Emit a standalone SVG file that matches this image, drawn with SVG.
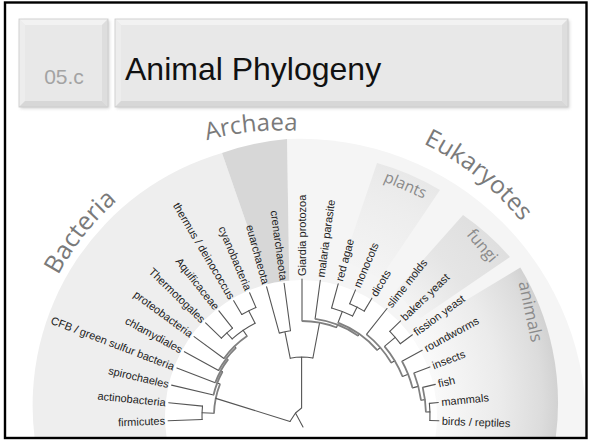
<svg xmlns="http://www.w3.org/2000/svg" width="589" height="442" viewBox="0 0 589 442">
<defs>
<style>
.lf{font-family:"Liberation Sans",Arial,sans-serif;font-size:11px;fill:#222}
.grp{font-family:"Open Sans","Noto Sans",sans-serif;fill:#7a7a7a}
.sub{font-family:"Open Sans","Noto Sans",sans-serif;fill:#8a8a8a}
.br{fill:none;stroke:#555;stroke-width:1.1;stroke-linecap:round}
.sp{fill:none;stroke:#808080;stroke-width:1.8}
.bx{fill:#e8e8e8}
.bt{fill:#f2f2f2}
.bl{fill:#ededed}
.brr{fill:#dddddd}
.bb{fill:#d7d7d7}
.bo{fill:none;stroke:#cacaca;stroke-width:0.8}
</style>
<radialGradient id="gAn" gradientUnits="userSpaceOnUse" cx="296" cy="403" r="262">
<stop offset="0.5" stop-color="#fbfbfb"/>
<stop offset="0.78" stop-color="#ebebeb"/>
<stop offset="0.94" stop-color="#dcdcdc"/>
<stop offset="1" stop-color="#d2d2d2"/>
</radialGradient>
<radialGradient id="gPl" gradientUnits="userSpaceOnUse" cx="296" cy="403" r="256">
<stop offset="0.55" stop-color="#e9e9e9" stop-opacity="0"/>
<stop offset="0.85" stop-color="#eaeaea" stop-opacity="0.7"/>
<stop offset="1" stop-color="#e8e8e8" stop-opacity="1"/>
</radialGradient>
<radialGradient id="gFu" gradientUnits="userSpaceOnUse" cx="296" cy="403" r="257">
<stop offset="0.55" stop-color="#e0e0e0" stop-opacity="0"/>
<stop offset="0.8" stop-color="#e2e2e2" stop-opacity="0.85"/>
<stop offset="1" stop-color="#dfdfdf" stop-opacity="1"/>
</radialGradient>
<clipPath id="clipFan"><rect x="0" y="0" width="589" height="437"/></clipPath>
<filter id="sh" x="-10%" y="-10%" width="125%" height="125%"><feGaussianBlur stdDeviation="1.5"/></filter>
<path id="arcBac" d="M28.9,363.6 A270,270 0 0 1 196.6,152.0"/>
<path id="arcArc" d="M136.6,170.1 A280,280 0 0 1 372.0,145.8"/>
<path id="arcEuk" d="M339.5,117.3 A289,289 0 0 1 565.2,297.8"/>
</defs>

<rect width="589" height="442" fill="#fff"/>

<g id="fan" clip-path="url(#clipFan)">
<path d="M301,437 L34.5,437 A263,263 0 0 1 222,153 L280,320 Z" fill="#eeeeee"/>
<path d="M287,139 A286,286 0 0 1 586,437 L301,437 L290,330 Z" fill="#f5f5f5"/>
<path d="M222,153 A262,262 0 0 1 287,139 L290,330 L280,320 Z" fill="#d7d7d7"/>
<path d="M377,163 A255,255 0 0 1 440,190 L380.1,278.8 L343.8,260.8 Z" fill="url(#gPl)"/>
<path d="M463,215 A256,256 0 0 1 510,257 L419.9,318.4 L395.6,290.8 Z" fill="url(#gFu)"/>
<path d="M520.3,267.5 A262,262 0 0 1 555.8,437 L320,437 L330,382 Z" fill="url(#gAn)"/>
<circle cx="301" cy="416" r="136" fill="#fff"/>
</g>

<g id="frame"><rect x="5" y="2.5" width="581.5" height="435.5" fill="none" stroke="#000" stroke-width="2.4"/></g>

<g id="box-05c">
<rect x="20.5" y="20.5" width="89" height="88" fill="#d2d2d2" filter="url(#sh)"/>
<rect class="bx" x="19" y="19" width="89" height="88"/>
<polygon class="bt" points="19,19 108,19 102,25 25,25"/>
<polygon class="bl" points="19,19 25,25 25,101 19,107"/>
<polygon class="brr" points="108,19 108,107 102,101 102,25"/>
<polygon class="bb" points="19,107 108,107 102,101 25,101"/>
<rect class="bo" x="19" y="19" width="89" height="88"/>
<text x="64" y="84" text-anchor="middle" font-family="Liberation Sans, Arial, sans-serif" font-size="21" fill="#a3a3a3">05.c</text>
</g>

<g id="box-title">
<rect x="116.5" y="20.5" width="453" height="88" fill="#d2d2d2" filter="url(#sh)"/>
<rect class="bx" x="115" y="19" width="453" height="88"/>
<polygon class="bt" points="115,19 568,19 562,25 121,25"/>
<polygon class="bl" points="115,19 121,25 121,101 115,107"/>
<polygon class="brr" points="568,19 568,107 562,101 562,25"/>
<polygon class="bb" points="115,107 568,107 562,101 121,101"/>
<rect class="bo" x="115" y="19" width="453" height="88"/>
<text x="125" y="80" font-family="Liberation Sans, Arial, sans-serif" font-size="32" fill="#111">Animal Phylogeny</text>
</g>

<g id="group-bacteria"><text class="grp" font-size="25"><textPath href="#arcBac" startOffset="50%" text-anchor="middle">Bacteria</textPath></text></g>
<g id="group-archaea"><text class="grp" font-size="24"><textPath href="#arcArc" startOffset="50%" text-anchor="middle">Archaea</textPath></text></g>
<g id="group-eukaryotes"><text class="grp" font-size="24.5"><textPath href="#arcEuk" startOffset="50%" text-anchor="middle">Eukaryotes</textPath></text></g>
<g id="group-plants"><text class="sub" font-size="15.5" x="383" y="181" transform="rotate(23.5 383 181)">plants</text></g>
<g id="group-fungi"><text class="sub" font-size="16" x="478.2" y="249.1" text-anchor="middle" transform="rotate(50 478.2 249.1)">fungi</text></g>
<g id="group-animals"><text class="sub" font-size="17" x="525" y="312.8" text-anchor="middle" transform="rotate(78 525 312.8)">animals</text></g>

<g id="connectors">
<path class="br" d="M168.1,420.7 L202.1,419.5 M168.7,402.8 L202.5,406.1 M171.6,385.1 L213.5,395.0 M176.9,368.0 L215.2,382.7 M184.4,351.7 L218.6,370.4 M194.1,336.6 L223.9,358.5 M205.6,322.9 L221.4,338.2 M218.9,310.9 L232.5,328.1 M233.7,300.7 L241.8,314.5 M249.6,292.7 L255.9,307.4"/>
<path class="br" d="M202.1,419.5 A100,100 0 0 1 202.5,406.1 M221.4,338.2 A112,112 0 0 1 232.5,328.1 M241.8,314.5 A118,118 0 0 1 255.9,307.4 M232.2,338.9 A104,104 0 0 1 255.1,323.2"/>
<path class="br" d="M202.1,412.8 L214.0,413.2 M226.8,333.0 L232.2,338.9 M248.7,310.7 L255.1,323.2 M243.1,330.3 L247.1,336.1 M234.5,346.3 L235.9,347.8 M226.4,358.4 L228.0,359.6 M220.8,370.7 L222.5,371.7 M217.2,383.0 L220.0,384.1"/>
<path class="sp" d="M214.0,413.2 A88,88 0 0 1 220.0,384.1 M213.5,395.0 A91,91 0 0 1 222.5,371.7 M215.2,382.7 A93,93 0 0 1 228.0,359.6 M218.6,370.4 A95,95 0 0 1 235.9,347.8 M223.9,358.5 A97,97 0 0 1 247.1,336.1"/>
<path class="br" d="M215.8,398.4 L290,421.5"/>
<path class="br" d="M266.6,286.8 L279.3,333.1 M284.1,283.2 L290.5,330.8 M279.3,333.1 A86,86 0 0 1 290.5,330.8 M284.9,331.7 L290.2,358.2"/>
<path class="br" d="M302,279 L302,321 M320.3,280.2 L315.1,318.9 M338.2,283.9 L331.6,308.0 M355.5,289.9 L349.7,303.7 M371.9,298.2 L364.2,311.1 M387.0,308.5 L366.5,334.4 M400.6,320.8 L389.8,331.3 M412.4,334.8 L400.3,343.7 M422.2,350.3 L402.0,361.3 M429.9,366.9 L414.0,373.0 M435.3,384.4 L422.7,387.4 M438.3,402.5 L429.4,403.4 M438.9,420.8 L429.9,420.5"/>
<path class="br" d="M349.7,303.7 A122,122 0 0 1 364.2,311.1 M331.6,308.0 A112,112 0 0 1 352.6,316.1 M389.8,331.3 A122,122 0 0 1 400.3,343.7 M429.4,403.4 A128,128 0 0 1 429.9,420.5"/>
<path class="br" d="M357.1,307.1 L352.6,316.1 M342.3,311.5 L338.0,322.7 M395.2,337.3 L384.5,346.3 M429.9,411.9 L425.9,412.0 M424.9,399.6 L421.0,400.2 M418.3,386.4 L412.5,387.9 M408.1,374.3 L402.5,376.5 M394.8,360.7 L391.3,362.8 M380.3,347.5 L377.2,350.1 M359.3,334.0 L358.1,335.7 M337.6,324.7 L336.5,327.5 M319.6,322.6 L312.9,358.0"/>
<path class="sp" d="M302,321 A95,95 0 0 1 336.5,327.5 M315.1,318.9 A98,98 0 0 1 358.1,335.7 M338.0,322.7 A100,100 0 0 1 377.2,350.1 M366.5,334.4 A104,104 0 0 1 391.3,362.8 M384.5,346.3 A108,108 0 0 1 402.5,376.5 M402.0,361.3 A114,114 0 0 1 412.5,387.9 M414.0,373.0 A120,120 0 0 1 421.0,400.2 M422.7,387.4 A124,124 0 0 1 425.9,412.0"/>
<path class="br" d="M290.2,358.2 A59,59 0 0 1 312.9,358.0 M301.6,357 L301.6,408 L295.5,413 M290,421.5 L295.5,413 L303,427"/>
</g>

<g id="leaf-firmicutes"><text class="lf" x="165.1" y="420.8" dy="0.35em" text-anchor="end" transform="rotate(-2 165.1 420.8)">firmicutes</text></g>
<g id="leaf-actinobacteria"><text class="lf" x="165.7" y="402.5" dy="0.35em" text-anchor="end" transform="rotate(5.67 165.7 402.5)">actinobacteria</text></g>
<g id="leaf-spirochaeles"><text class="lf" x="168.7" y="384.4" dy="0.35em" text-anchor="end" transform="rotate(13.33 168.7 384.4)">spirochaeles</text></g>
<g id="leaf-cfb"><text class="lf" x="174.1" y="366.9" dy="0.35em" text-anchor="end" transform="rotate(21 174.1 366.9)">CFB / green sulfur bacteria</text></g>
<g id="leaf-chlamydiales"><text class="lf" x="181.8" y="350.3" dy="0.35em" text-anchor="end" transform="rotate(28.67 181.8 350.3)">chlamydiales</text></g>
<g id="leaf-proteobacteria"><text class="lf" x="191.6" y="334.8" dy="0.35em" text-anchor="end" transform="rotate(36.33 191.6 334.8)">proteobacteria</text></g>
<g id="leaf-thermotogales"><text class="lf" x="203.5" y="320.8" dy="0.35em" text-anchor="end" transform="rotate(44 203.5 320.8)">Thermotogales</text></g>
<g id="leaf-aquificaceae"><text class="lf" x="217.0" y="308.5" dy="0.35em" text-anchor="end" transform="rotate(51.67 217.0 308.5)">Aquificaceae</text></g>
<g id="leaf-thermus"><text class="lf" x="232.1" y="298.2" dy="0.35em" text-anchor="end" transform="rotate(59.33 232.1 298.2)">thermus / deinococcus</text></g>
<g id="leaf-cyanobacteria"><text class="lf" x="248.5" y="289.9" dy="0.35em" text-anchor="end" transform="rotate(67 248.5 289.9)">cyanobacteria</text></g>
<g id="leaf-euarchaeota"><text class="lf" x="265.8" y="283.9" dy="0.35em" text-anchor="end" transform="rotate(74.67 265.8 283.9)">euarchaeota</text></g>
<g id="leaf-crenarchaeota"><text class="lf" x="283.7" y="280.2" dy="0.35em" text-anchor="end" transform="rotate(82.33 283.7 280.2)">crenarchaeota</text></g>
<g id="leaf-giardia"><text class="lf" x="302" y="276" dy="0.35em" transform="rotate(-90 302 276)">Giardia protozoa</text></g>
<g id="leaf-malaria"><text class="lf" x="320.7" y="277.3" dy="0.35em" transform="rotate(-82.33 320.7 277.3)">malaria parasite</text></g>
<g id="leaf-redalgae"><text class="lf" x="339.0" y="281.0" dy="0.35em" transform="rotate(-74.67 339.0 281.0)">red agae</text></g>
<g id="leaf-monocots"><text class="lf" x="356.7" y="287.1" dy="0.35em" transform="rotate(-67 356.7 287.1)">monocots</text></g>
<g id="leaf-dicots"><text class="lf" x="373.4" y="295.6" dy="0.35em" transform="rotate(-59.33 373.4 295.6)">dicots</text></g>
<g id="leaf-slimemolds"><text class="lf" x="388.8" y="306.2" dy="0.35em" transform="rotate(-51.67 388.8 306.2)">slime molds</text></g>
<g id="leaf-bakersyeast"><text class="lf" x="402.7" y="318.8" dy="0.35em" transform="rotate(-44 402.7 318.8)">bakers yeast</text></g>
<g id="leaf-fissionyeast"><text class="lf" x="414.8" y="333.1" dy="0.35em" transform="rotate(-36.33 414.8 333.1)">fission yeast</text></g>
<g id="leaf-roundworms"><text class="lf" x="424.8" y="348.8" dy="0.35em" transform="rotate(-28.67 424.8 348.8)">roundworms</text></g>
<g id="leaf-insects"><text class="lf" x="432.7" y="365.8" dy="0.35em" transform="rotate(-21 432.7 365.8)">insects</text></g>
<g id="leaf-fish"><text class="lf" x="438.2" y="383.7" dy="0.35em" transform="rotate(-13.33 438.2 383.7)">fish</text></g>
<g id="leaf-mammals"><text class="lf" x="441.3" y="402.2" dy="0.35em" transform="rotate(-5.67 441.3 402.2)">mammals</text></g>
<g id="leaf-birds"><text class="lf" x="441.9" y="420.9" dy="0.35em" transform="rotate(2 441.9 420.9)">birds / reptiles</text></g>
</svg>
